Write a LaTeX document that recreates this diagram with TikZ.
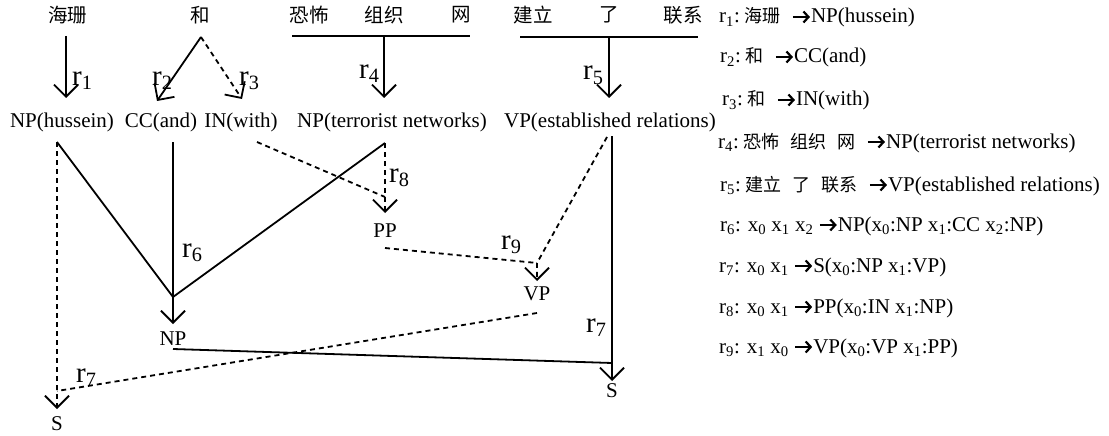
\documentclass[tikz,border=0pt]{standalone}
\usepackage{fontspec}
\setmainfont{Liberation Serif}
\newfontfamily\cjk{Noto Sans CJK SC}
\usetikzlibrary{arrows.meta}
\newcommand{\ra}{\tikz[x=1pt,y=1pt,baseline=0pt]{\draw[line width=2.2pt,-{Straight Barb[length=5pt,width=11pt,line width=2.2pt]}] (0,6) -- (17,6);}}
\newcommand{\zh}[1]{{\cjk\fontsize{18}{22}\selectfont #1}}
\newcommand{\gp}{\hspace{11pt}}
\newcommand{\rr}[1]{r\textsubscript{#1}}
\newcommand{\xx}[1]{x\textsubscript{#1}}
\begin{document}
\begin{tikzpicture}[x=1pt,y=-1pt,
  lbl/.style={font=\fontsize{21}{24}\selectfont, inner sep=0pt, anchor=base},
  cnw/.style={font=\cjk\fontsize{19.5}{22}\selectfont, inner sep=0pt},
  rl/.style={font=\fontsize{29}{32}\selectfont, inner sep=0pt, anchor=base west},
  leg/.style={font=\fontsize{21}{24}\selectfont, inner sep=0pt, anchor=base west},
  ln/.style={line width=1.8pt},
  arr/.style={line width=1.8pt, -{Straight Barb[length=12pt,width=24pt,line width=1.8pt]}},
  dsh/.style={dash pattern=on 5pt off 4pt}]
\useasboundingbox (0,0) rectangle (1109,436);
% top words
\node[cnw] (w1) at (68,15) {海珊};
\node[cnw] (w2) at (200,15) {和};
\node[cnw] (w3a) at (309,15) {恐怖};
\node[cnw] (w3b) at (384,15) {组织};
\node[cnw] (w3c) at (461,15) {网};
\node[cnw] (w4a) at (533,15) {建立};
\node[cnw] (w4b) at (609,15) {了};
\node[cnw] (w4c) at (683,15) {联系};
% bars
\coordinate (b3l) at (292,36); \coordinate (b3r) at (470,36); \coordinate (b3m) at (384,36);
\coordinate (b4l) at (520,37); \coordinate (b4r) at (698,37); \coordinate (b4m) at (609,37);
\draw[ln] (b3l) -- (b3r);
\draw[ln] (b4l) -- (b4r);
% row 2 labels
\node[lbl] (np1) at (62,127) {NP(hussein)};
\node[lbl] (cc) at (161,127) {CC(and)};
\node[lbl] (in) at (241,127) {IN(with)};
\node[lbl] (np2) at (392,127) {NP(terrorist networks)};
\node[lbl] (vp1) at (610,127) {VP(established relations)};
% top arrows
\coordinate (a1s) at (66,36); \coordinate (a1e) at (66,98);
\coordinate (a2s) at (201,37); \coordinate (a2e) at (157,101);
\coordinate (a3e) at (242,99);
\coordinate (a4e) at (384,98);
\coordinate (a5e) at (609,98);
\draw[arr] (a1s) -- (a1e);
\draw[arr] (a2s) -- (a2e);
\draw[arr,dsh] (a2s) -- (a3e);
\draw[arr] (b3m) -- (a4e);
\draw[arr] (b4m) -- (a5e);
\node[rl] (r1) at (72,85) {\rr{1}};
\node[rl] (r2) at (152,85) {\rr{2}};
\node[rl] (r3) at (239,85) {\rr{3}};
\node[rl] (r4) at (359,78) {\rr{4}};
\node[rl] (r5) at (583,80) {\rr{5}};
% lower nodes
\node[lbl] (np3) at (173,345) {NP};
\node[lbl] (pp) at (385,237) {PP};
\node[lbl] (vp2) at (537,300) {VP};
\node[lbl] (s1) at (57,430) {S};
\node[lbl] (s2) at (612,397) {S};
% attachment points
\coordinate (p1) at (57,142);
\coordinate (p2) at (173,142);
\coordinate (p3) at (257,142);
\coordinate (p4) at (385,143);
\coordinate (p5) at (607,137);
\coordinate (p6) at (612,136);
\coordinate (j6) at (173,297);  \coordinate (t6) at (173,324);
\coordinate (j8) at (385,197);  \coordinate (t8) at (385,213);
\coordinate (q8) at (385,248);
\coordinate (j9) at (537,263);  \coordinate (t9) at (537,281);
\coordinate (q6) at (173,349);
\coordinate (q9) at (537,313);
\coordinate (j7a) at (57,391);  \coordinate (t7a) at (57,409);
\coordinate (j7b) at (612,363); \coordinate (t7b) at (612,381);
% r6
\draw[ln] (p1) -- (j6);
\draw[ln] (p4) -- (j6);
\draw[arr] (p2) -- (t6);
% r8
\draw[ln,dsh] (p3) -- (j8);
\draw[arr,dsh] (p4) -- (t8);
% r9
\draw[ln,dsh] (q8) -- (j9);
\draw[arr,dsh] (p5) -- (j9) -- (t9);
% r7 right (solid)
\draw[ln] (q6) -- (j7b);
\draw[arr] (p6) -- (t7b);
% r7 left (dashed)
\draw[ln,dsh] (q9) -- (j7a);
\draw[arr,dsh] (p1) -- (t7a);
\node[rl] (r6) at (182,257) {\rr{6}};
\node[rl] (r7a) at (76,382) {\rr{7}};
\node[rl] (r8) at (389,182) {\rr{8}};
\node[rl] (r9) at (501,249) {\rr{9}};
\node[rl] (r7b) at (586,332) {\rr{7}};
% legend
\node[leg] (l1) at (719,23) {\rr{1}:\hspace{5pt}\zh{海珊}\gp\ra NP(hussein)};
\node[leg] (l2) at (720,63) {\rr{2}:\hspace{5pt}\zh{和}\gp\ra CC(and)};
\node[leg] (l3) at (722,106) {\rr{3}:\hspace{5pt}\zh{和}\gp\ra IN(with)};
\node[leg] (l4) at (718,148) {\rr{4}:\hspace{5pt}\zh{恐怖}\gp\zh{组织}\gp\zh{网}\gp\ra NP(terrorist networks)};
\node[leg] (l5) at (720,191) {\rr{5}:\hspace{5pt}\zh{建立}\gp\zh{了}\gp\zh{联系}\gp\ra VP(established relations)};
\node[leg] (l6) at (720,231) {\rr{6}: \xx{0} \xx{1} \xx{2} \ra NP(\xx{0}:NP \xx{1}:CC \xx{2}:NP)};
\node[leg] (l7) at (719,272) {\rr{7}: \xx{0} \xx{1} \ra S(\xx{0}:NP \xx{1}:VP)};
\node[leg] (l8) at (719,313) {\rr{8}: \xx{0} \xx{1} \ra PP(\xx{0}:IN \xx{1}:NP)};
\node[leg] (l9) at (719,353) {\rr{9}: \xx{1} \xx{0} \ra VP(\xx{0}:VP \xx{1}:PP)};
\end{tikzpicture}
\end{document}
